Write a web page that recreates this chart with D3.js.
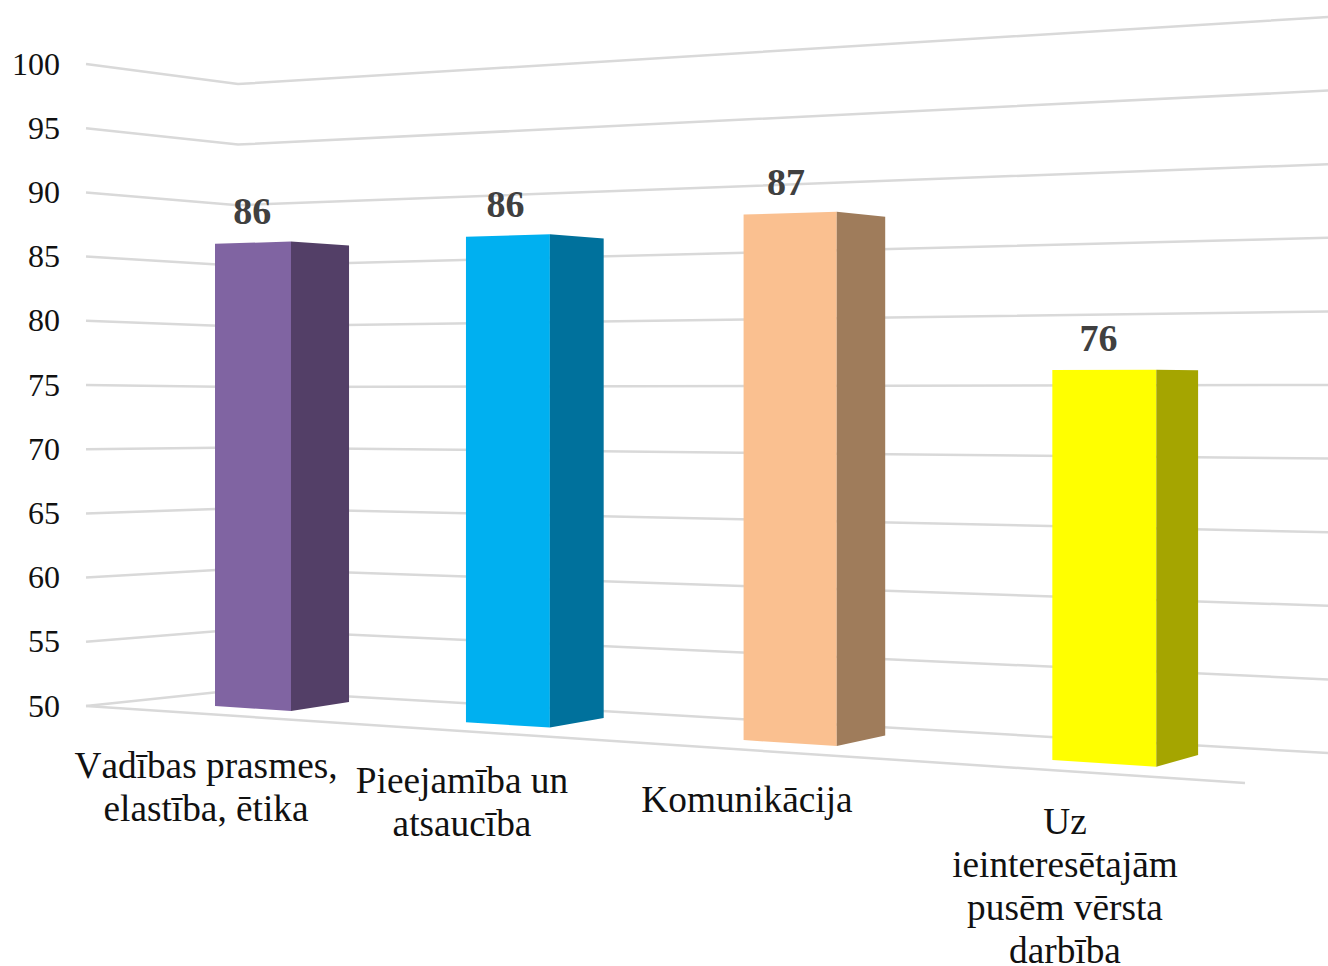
<!DOCTYPE html>
<html><head><meta charset="utf-8">
<script src="https://cdnjs.cloudflare.com/ajax/libs/d3/7.8.5/d3.min.js"></script>
<style>html,body{margin:0;padding:0;background:#fff;overflow:hidden}svg{display:block}text{font-family:"Liberation Serif","Times New Roman",serif}</style>
</head><body><svg id="c" width="1328" height="966"></svg>
<script>
// ---- data ----
const categories = [
  ["Vadības prasmes,", "elastība, ētika"],
  ["Pieejamība un", "atsaucība"],
  ["Komunikācija"],
  ["Uz", "ieinteresētajām", "pusēm vērsta", "darbība"]
];
const values = [86, 86, 87, 76];
const frontColors = ["#8064a2", "#00b0f0", "#fac090", "#ffff00"];
const sideColors  = ["#533f67", "#00719c", "#9f7c5b", "#a5a500"];
const ticks = d3.range(50, 101, 5);

// ---- layout ----
const svg = d3.select("#c");
const BASE = 50, TOP = 100, EYE = 75;      // eye level: this value's gridline is flat
// wall frame: value -> y at the three anchors of each gridline
const wallX = [86, 238, 1328];
const wallLeft   = d3.scaleLinear().domain([BASE, TOP]).range([706, 64]);
const wallCorner = d3.scaleLinear().domain([BASE, TOP]).range([690, 84]);
const wallRight  = d3.scaleLinear().domain([BASE, TOP]).range([753, 17]);
const floorFront = {x: 1245, y: 783};

// perspective projection of the bars: u = category position, d = depth (0 front, 1 back)
const EYE_Y = 385, UNIT = 12.84;
function project(u, d, v) {
  const W = 1 - 0.048 * u + d * (0.0277 - 0.00033 * u);
  const X = 215 + 228.6 * u + d * (66.78 + 0.07 * u);
  const s = UNIT / W;
  return [X / W, EYE_Y - (v - EYE) * s];
}
const BAR_U = 0.3133;

// gridlines
const line = d3.line();
svg.append("g").selectAll("path").data(ticks).join("path")
  .attr("d", t => line([[wallX[0], wallLeft(t)], [wallX[1], wallCorner(t)], [wallX[2], wallRight(t)]]))
  .attr("fill", "none").attr("stroke", "#d9d9d9").attr("stroke-width", 2.5);
// floor front edge
svg.append("path")
  .attr("d", line([[wallX[0], wallLeft(BASE)], [floorFront.x, floorFront.y]]))
  .attr("fill", "none").attr("stroke", "#d9d9d9").attr("stroke-width", 2.5);

// tick labels
svg.append("g").selectAll("text").data(ticks).join("text")
  .attr("x", 60).attr("y", t => wallLeft(t) + 10.5)
  .attr("text-anchor", "end").attr("font-size", 32).attr("fill", "#111").text(t => t);

// bars
const bars = svg.append("g").selectAll("g").data(values).join("g");
bars.append("path").attr("fill", (_, i) => frontColors[i])
  .attr("d", (v, i) => line([project(i, 0, BASE), project(i + BAR_U, 0, BASE), project(i + BAR_U, 0, v), project(i, 0, v)]) + "Z");
bars.append("path").attr("fill", (_, i) => sideColors[i])
  .attr("d", (v, i) => line([project(i + BAR_U, 0, BASE), project(i + BAR_U, 1, BASE), project(i + BAR_U, 1, v), project(i + BAR_U, 0, v)]) + "Z");

// value labels
bars.append("text")
  .attr("x", (v, i) => project(i + BAR_U / 2, 0, v)[0] - 0.5 - 1.6 * i)
  .attr("y", (v, i) => project(i + BAR_U / 2, 0, v)[1] - 18.5)
  .attr("text-anchor", "middle").attr("font-size", 38).attr("font-weight", "bold").attr("fill", "#404040")
  .text(v => v);

// category labels
const labelX = [206, 462, 747, 1065];
const labelY = [778, 793, 812, 834];
const LINE_H = 43;
svg.append("g").selectAll("text").data(categories).join("text")
  .attr("text-anchor", "middle").attr("font-size", 37.3).attr("fill", "#111")
  .style("font-kerning", "none")
  .each(function (lines, i) {
    d3.select(this).selectAll("tspan").data(lines).join("tspan")
      .attr("x", labelX[i]).attr("y", (_, j) => labelY[i] + j * LINE_H).text(d => d);
  });
</script></body></html>
